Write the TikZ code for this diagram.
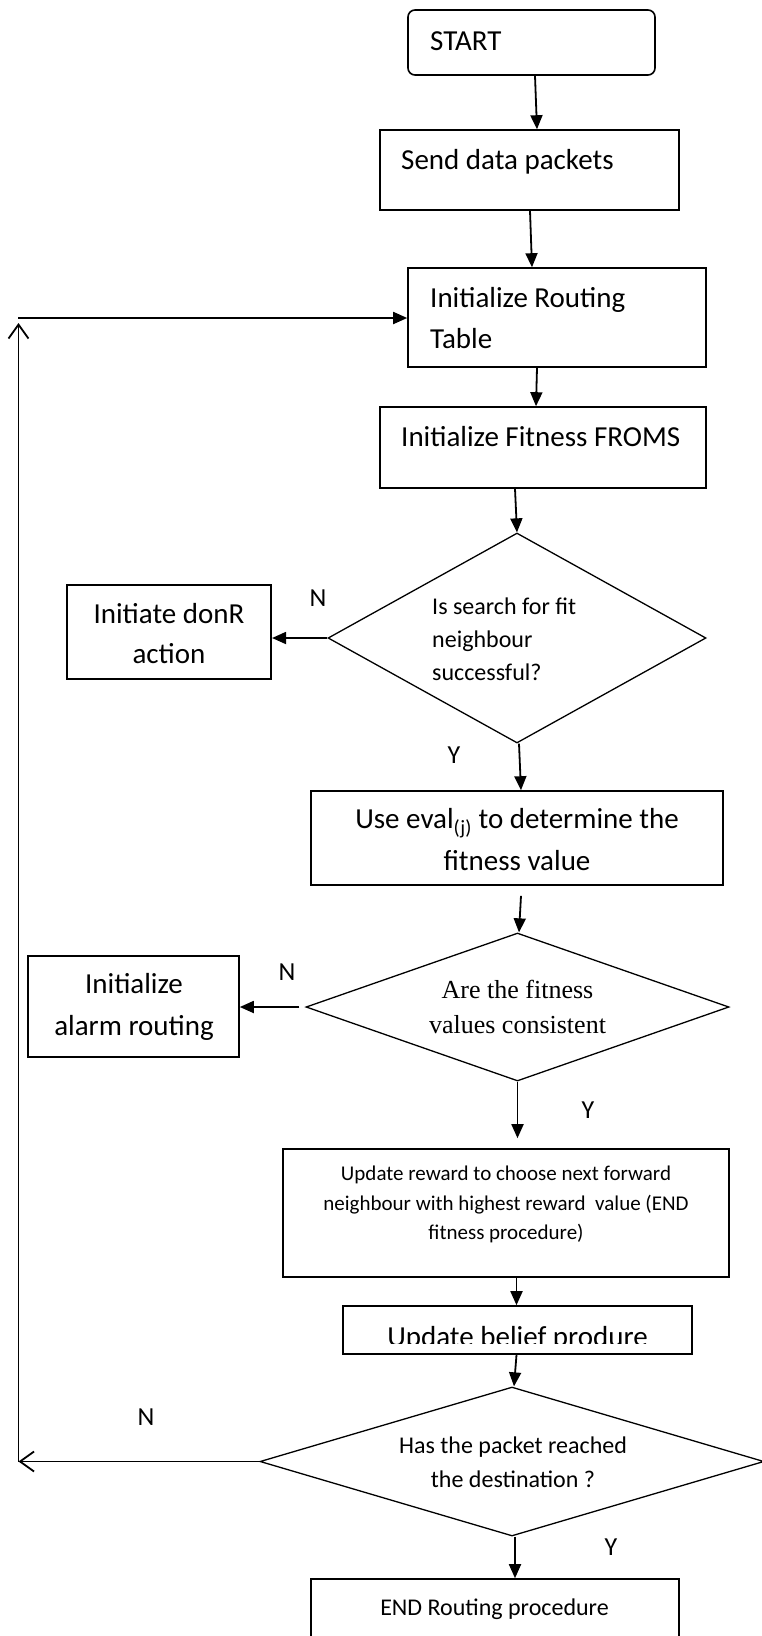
\documentclass[tikz,border=0pt]{standalone}
\usepackage{fontspec}
\setmainfont{Carlito}
\newfontfamily\serifTNR{Liberation Serif}
\usetikzlibrary{arrows.meta,shapes.geometric}
\begin{document}
\begin{tikzpicture}[x=1pt,y=-1pt,
  box/.style={draw, line width=1.6pt, inner sep=0pt},
  dia/.style={draw, diamond, line width=1.3pt, inner sep=0pt},
  arr/.style={line width=1.8pt, -{Triangle[length=14pt,width=12pt]}},
  oarr/.style={line width=1.8pt, -{Straight Barb[length=14pt,width=20pt]}},
  big/.style={font=\fontsize{29}{35}\selectfont, inner sep=0pt},
  mid/.style={font=\fontsize{24}{29}\selectfont, inner sep=0pt},
  sml/.style={font=\fontsize{21}{25}\selectfont, inner sep=0pt},
  ser/.style={font=\serifTNR\fontsize{26}{30}\selectfont, inner sep=0pt},
  lbl/.style={font=\fontsize{26}{30}\selectfont, inner sep=0pt, anchor=base},
]
\useasboundingbox (0,0) rectangle (762,1636);
\clip (0,0) rectangle (762,1636);
\fill[white] (0,0) rectangle (762,1636);

% boxes
\node[box, rounded corners=7pt, minimum width=247pt, minimum height=65pt] (start) at (531.5,42.5) {};
\node[big, anchor=base west] (tstart) at (430,50) {START};

\node[box, minimum width=299pt, minimum height=80pt] (send) at (529.5,170) {};
\node[big, anchor=base west] (tsend) at (401,169) {Send data packets};

\node[box, minimum width=298pt, minimum height=99pt] (init) at (557,317.5) {};
\node[big, anchor=base west] (tinita) at (430,307) {Initialize Routing};
\node[big, anchor=base west] (tinitb) at (430,348) {Table};

\node[box, minimum width=326pt, minimum height=81pt] (fit) at (543,447.5) {};
\node[big, anchor=base west] (tfit) at (401,446) {Initialize Fitness FROMS};

\node[dia, minimum width=378pt, minimum height=210pt] (d1) at (517,638) {};
\node[mid, anchor=base west] (td1a) at (432,614) {Is search for fit};
\node[mid, anchor=base west] (td1b) at (432,647) {neighbour};
\node[mid, anchor=base west] (td1c) at (432,680) {successful?};

\node[box, minimum width=204.5pt, minimum height=94pt] (donr) at (169,632) {};
\node[big, anchor=base] (tdonra) at (169,623) {Initiate donR};
\node[big, anchor=base] (tdonrb) at (169,663) {action};

\node[box, minimum width=411.5pt, minimum height=94pt] (eval) at (517,838) {};
\node[big, anchor=base] (tevala) at (517,828) {Use eval\textsubscript{(j)} to determine the};
\node[big, anchor=base] (tevalb) at (517,870) {fitness value};

\node[dia, minimum width=423pt, minimum height=148pt] (d2) at (517.5,1007) {};
\node[ser, anchor=base] (td2a) at (517.5,998) {Are the fitness};
\node[ser, anchor=base] (td2b) at (517.5,1033) {values consistent};

\node[box, minimum width=211pt, minimum height=101pt] (alarm) at (133.5,1006.5) {};
\node[big, anchor=base] (talarma) at (134,993) {Initialize};
\node[big, anchor=base] (talarmb) at (134,1035) {alarm routing};

\node[box, minimum width=446pt, minimum height=128pt] (reward) at (506,1213) {};
\node[sml, anchor=base] (trewa) at (506,1180) {Update reward to choose next forward};
\node[sml, anchor=base] (trewb) at (506,1210) {neighbour with highest reward\ \ value (END};
\node[sml, anchor=base] (trewc) at (506,1239) {fitness procedure)};

\node[box, minimum width=349pt, minimum height=48pt] (belief) at (517.5,1330) {};
\begin{scope}
\clip (343,1306) rectangle (692,1343);
\node[big, anchor=base] (tbelief) at (517.5,1346) {Update belief produre};
\end{scope}

\node[dia, minimum width=504pt, minimum height=149pt] (d3) at (512,1461.5) {};
\node[mid, anchor=base] (td3a) at (513,1453) {Has the packet reached};
\node[mid, anchor=base] (td3b) at (513,1487) {the destination ?};

\node[box, minimum width=367.5pt, minimum height=72pt] (endb) at (495,1615) {};
\node[mid, anchor=base] (tend) at (494.5,1615) {END Routing procedure};

% labels
\node[lbl] (n1) at (318,606) {N};
\node[lbl] (y1) at (454,763) {Y};
\node[lbl] (n2) at (287,980) {N};
\node[lbl] (y2) at (588,1118) {Y};
\node[lbl] (n3) at (146,1425) {N};
\node[lbl] (y3) at (611,1555) {Y};

% connectors
\draw[arr] ([xshift=3.5pt]start.south) -- ([xshift=7.5pt]send.north);
\draw[arr] ([xshift=0.5pt]send.south) -- ([xshift=-25pt]init.north);
\draw[arr] ([xshift=-20pt]init.south) -- ([xshift=-7pt]fit.north);
\draw[arr] ([xshift=-28pt]fit.south) -- (d1.north);
\draw[arr] (d1.west) -- (d1.west -| donr.east);
\draw[arr] ([xshift=2pt]d1.south) -- ([xshift=4pt]eval.north);
\draw[arr] ([xshift=4pt,yshift=-10pt]eval.south) -- ([xshift=1.5pt]d2.north);
\draw[arr] ([xshift=-6pt]d2.west) -- (d2.west -| alarm.east);
\coordinate (rtop) at ([yshift=10pt]reward.north);
\draw[arr] (d2.south) -- (rtop -| d2.south);
\draw[arr] ([xshift=10.5pt]reward.south) -- ([xshift=-1pt]belief.north);
\draw[arr] ([xshift=-1pt]belief.south) -- ([xshift=2pt]d3.north);
\draw[arr] ([xshift=3pt]d3.south) -- ([xshift=20pt]endb.north);

\coordinate (lb) at (18.5,1461.5);
\coordinate (lt) at (18.5,323);
\coordinate (lh) at (18,318);
\draw[oarr] (d3.west) -- (lb);
\draw[oarr] (lb) -- (lt);
\draw[arr] (lh) -- (lh -| init.west);
\end{tikzpicture}
\end{document}
